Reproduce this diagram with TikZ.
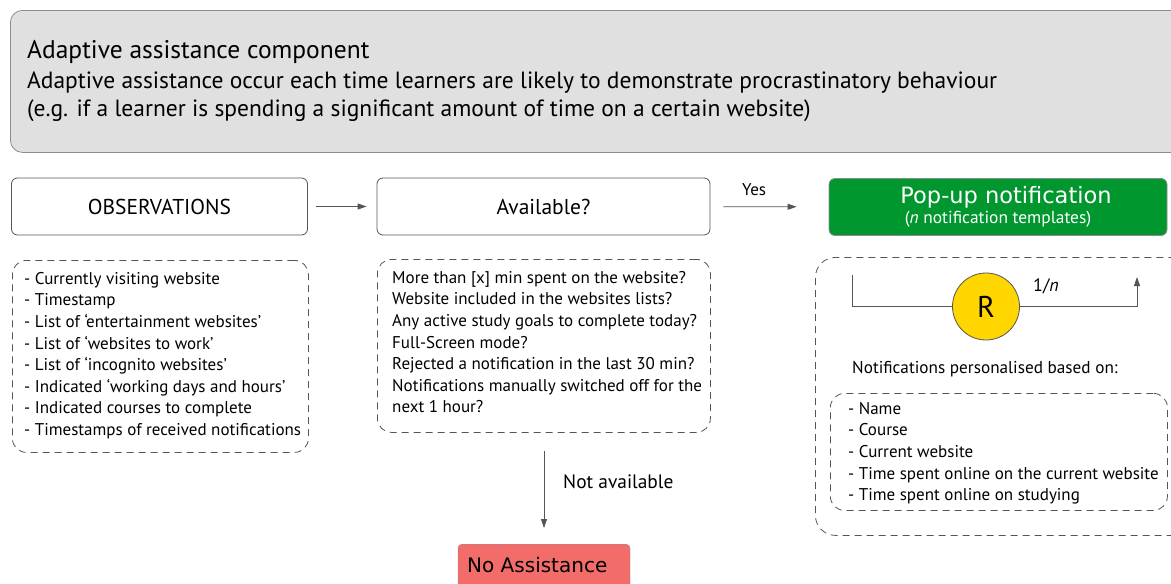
\documentclass[tikz,border=0pt]{standalone}
\usepackage{fontspec}
\setmainfont{PT Sans}
\newfontfamily\boxfont{DejaVu Sans}
\usetikzlibrary{arrows.meta}

\definecolor{panelgray}{RGB}{224,224,224}
\definecolor{edgegray}{RGB}{140,140,140}
\definecolor{linegray}{RGB}{85,85,85}
\definecolor{popgreen}{RGB}{0,152,46}
\definecolor{nored}{RGB}{242,108,106}
\definecolor{rgold}{RGB}{255,214,0}

\newcommand{\fsz}[1]{\fontsize{#1}{#1}\selectfont}

\begin{document}
\begin{tikzpicture}[x=1pt, y=-1pt,
  stepbox/.style={rectangle, rounded corners=6pt, draw=linegray, line width=0.8pt,
                  minimum height=57pt, font=\fsz{21.5}},
  dbox/.style={rectangle, rounded corners=14pt, draw=linegray, line width=0.8pt,
               dash pattern=on 7pt off 5pt, anchor=north west, inner sep=0pt},
  list/.style={anchor=north west, align=left, inner sep=0pt,
               font=\fontsize{17}{21.6}\selectfont},
  txt/.style={anchor=base west, inner sep=0pt},
  arr/.style={-{Triangle[length=9pt,width=6pt]}, draw=linegray, line width=0.8pt}]

\useasboundingbox (0,0) rectangle (1171,584);
\clip (0,0) rectangle (1171,584);

%% header panel
\node[rectangle, rounded corners=12pt, draw=edgegray, fill=panelgray, line width=0.8pt,
      anchor=north west, minimum width=1190pt, minimum height=142pt] (panel) at (10,10) {};
\node[txt, font=\fsz{25.5}] (ttl)  at (27,58)  {Adaptive assistance component};
\node[txt, font=\fsz{23.5}] (sub1) at (27,88)  {Adaptive assistance occur each time learners are likely to demonstrate procrastinatory behaviour};
\node[txt, font=\fsz{23.5}] (sub2) at (27,116) {(e.g. if a learner is spending a significant amount of time on a certain website)};

%% decision row
\node[stepbox, minimum width=296pt] (obs)   at (159.5,206.5) {OBSERVATIONS};
\node[stepbox, minimum width=333pt] (avail) at (543.5,206.5) {Available?};
\node[stepbox, minimum width=338pt, fill=popgreen, text=white, align=center,
      draw=edgegray] (popup) at (998,207) {{\boxfont\fsz{22.5}\hspace*{16pt}Pop-up notification}\\[-1pt]
      {\fsz{17.4}(\textit{n} notification templates)}};
\draw[arr, shorten <=8pt, shorten >=10pt] (obs) -- (avail);
\draw[arr, shorten <=13pt, shorten >=32pt] (avail) -- (popup);
\node[txt, font=\fsz{17}] (yes) at (742,195) {Yes};

%% observations list
\node[dbox, minimum width=296pt, minimum height=192pt] (obsbox) at (12,260) {};
\node[list] (obslist) at (24,272) {- Currently visiting website\\
  - Timestamp\\
  - List of `entertainment websites'\\
  - List of `websites to work'\\
  - List of `incognito websites'\\
  - Indicated `working days and hours'\\
  - Indicated courses to complete\\
  - Timestamps of received notifications};

%% availability checks
\node[dbox, minimum width=333pt, minimum height=173pt] (availbox) at (377,259) {};
\node[list] (availlist) at (392,271) {More than [x] min spent on the website?\\
  Website included in the websites lists?\\
  Any active study goals to complete today?\\
  Full-Screen mode?\\
  Rejected a notification in the last 30 min?\\
  Notifications manually switched off for the\\
  next 1 hour?};

%% not available branch
\node[rectangle, rounded corners=4pt, draw=edgegray, fill=nored, anchor=north,
      minimum width=172pt, minimum height=60pt] (noassist) at (544,544) {};
\node[txt, font=\boxfont\fsz{20}] (notxt) at (467,572) {No Assistance};
\draw[arr, shorten <=18pt, shorten >=16pt] (availbox.south -| noassist) -- (noassist);
\node[txt, font=\fsz{19.4}] (notav) at (563,488) {Not available};

%% pop-up personalisation
\node[dbox, rounded corners=20pt, minimum width=380pt, minimum height=278pt] (popbox) at (815,257) {};
\node[circle, draw=linegray, fill=rgold, line width=0.8pt, minimum size=67pt,
      inner sep=0pt, font=\fsz{30}] (rnd) at (986,306.5) {R};
\coordinate (loopin)  at (852,275);
\coordinate (loopout) at (1137,277);
\draw[draw=linegray, line width=0.8pt] (loopin) |- (rnd.west);
\draw[arr] (rnd.east) -| (loopout);
\node[txt, font=\fsz{18}] (prob) at (1033,291) {1/\textit{n}};
\node[txt, font=\fsz{17.2}] (based) at (852,373) {Notifications personalised based on:};
\node[dbox, minimum width=337pt, minimum height=117pt] (persbox) at (830,393) {};
\node[list] (perslist) at (848,402) {- Name\\
  - Course\\
  - Current website\\
  - Time spent online on the current website\\
  - Time spent online on studying};
\end{tikzpicture}
\end{document}
